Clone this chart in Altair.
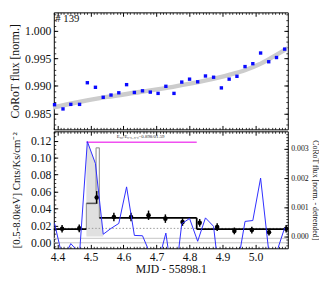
import altair as alt
import pandas as pd

FONT = "Liberation Serif"
X_DOMAIN = [4.389, 5.098]
TOP_DOMAIN = [0.9821, 1.0034]
LEFT_DOMAIN = [-0.007, 0.131]
RIGHT_DOMAIN = [-0.0004, 0.0036]

# ---------------- top panel: CoRoT light curve ----------------
corot_t = [4.3912, 4.4168, 4.4404, 4.4670, 4.4906, 4.5151, 4.5387, 4.5623, 4.5859, 4.6095,
           4.6331, 4.6577, 4.6813, 4.7049, 4.7285, 4.7531, 4.7767, 4.8003, 4.8249, 4.8485,
           4.8731, 4.8967, 4.9203, 4.9439, 4.9684, 4.9920, 5.0156, 5.0402, 5.0638, 5.0884]
corot_flux = [0.98659, 0.98582, 0.98665, 0.98665, 0.99059, 0.98976, 0.98794, 0.98835, 0.98876, 0.99024,
              0.98882, 0.98912, 0.98888, 0.98865, 0.98994, 0.98865, 0.99071, 0.99124, 0.99076, 0.99182,
              0.99159, 0.98965, 0.99124, 0.99176, 0.99353, 0.99406, 0.99600, 0.99441, 0.99518, 0.99671]
trend_t = [4.389, 4.45, 4.55, 4.65, 4.75, 4.85, 4.92, 4.97, 5.01, 5.05, 5.098]
trend_flux = [0.98612, 0.98690, 0.98800, 0.98890, 0.98985, 0.99100, 0.99200, 0.99290, 0.99390, 0.99520, 0.99690]

# detrended CoRoT flux (right axis of lower panel)
detrended = [0.00045, -0.0008, -0.00024, -0.00057, 0.00325, 0.0025, 0.00008, 0.00028, 0.00045, 0.0017,
             0.00004, 0.00003, -0.0006, -0.0009, 0.00012, -0.0018, 0.00044, 0.00062, -0.00016, 0.00064,
             0.00035, -0.002, -0.001, -0.0011, 0.00052, 0.00055, 0.0020, -0.0005, -0.00055, 0.0003]

# flare area (right-axis units)
fill_t = [4.4877, 4.4906, 4.5151, 4.5387]
fill_top = [0.0028, 0.00325, 0.0025, 0.00008]

# ---------------- lower panel: X-ray light curve ----------------
xray_t = [4.414, 4.466, 4.519, 4.571, 4.623, 4.676, 4.727, 4.779, 4.831, 4.884, 4.936, 4.989, 5.041, 5.093]
xray_rate = [0.016, 0.0165, 0.053, 0.030, 0.030, 0.032, 0.028, 0.024, 0.023, 0.018, 0.0135, 0.0145, 0.012, 0.016]
xray_err = [0.0045, 0.0045, 0.0075, 0.005, 0.005, 0.0055, 0.005, 0.0045, 0.0045, 0.0045, 0.004, 0.004, 0.004, 0.0045]

# Bayesian blocks
bb_edges = [4.389, 4.4877, 4.517, 4.527, 4.822, 5.098]
bb_vals = [0.0155, 0.046, 0.1115, 0.029, 0.0155]
bb_style = ["black", "dark", "light", "black", "black"]

flare_span = [4.4877, 4.822]
flare_level = 0.118
quiescent_level = 0.0165
background_levels = [0.0048, -0.0005]
annotation = "E₅₀/E₀.₅₋₈.₀=0.898/01.59"

X_MAJOR = [4.4, 4.5, 4.6, 4.7, 4.8, 4.9, 5.0]
X_MINOR = [round(4.39 + 0.01 * i, 2) for i in range(71)]
X_MINOR = [v for v in X_MINOR if v not in X_MAJOR]
TOP_MAJOR = [0.985, 0.990, 0.995, 1.000]
TOP_MINOR = [round(0.983 + 0.001 * i, 3) for i in range(21)]
LEFT_MAJOR = [0.0, 0.02, 0.04, 0.06, 0.08, 0.10, 0.12]
LEFT_MINOR = [round(-0.005 + 0.005 * i, 3) for i in range(28)]
RIGHT_MAJOR = [0.0, 0.001, 0.002, 0.003]
RIGHT_MINOR = [round(-0.0003 + 0.0001 * i, 4) for i in range(39)]


def ax_major(orient, values, **kw):
    base = dict(orient=orient, values=values, offset=-4, tickSize=4, domain=False,
                labels=False, title=None, grid=False, tickColor="#000", tickWidth=1,
                labelFlush=False)
    base.update(kw)
    return alt.Axis(**base)


def ax_minor(orient, values):
    return alt.Axis(orient=orient, values=values, offset=-2, tickSize=2, domain=False,
                    labels=False, title=None, grid=False, tickColor="#000", tickWidth=0.8)


xs = alt.Scale(domain=X_DOMAIN, nice=False, zero=False)


def X(field, axis):
    return alt.X(f"{field}:Q", scale=xs, axis=axis)


ys_top = alt.Scale(domain=TOP_DOMAIN, nice=False, zero=False)
ys_left = alt.Scale(domain=LEFT_DOMAIN, nice=False, zero=False)
ys_right = alt.Scale(domain=RIGHT_DOMAIN, nice=False, zero=False)

# ---------- top ----------
top_pts = pd.DataFrame({"t": corot_t, "f": corot_flux})
top_trend = pd.DataFrame({"t": trend_t, "f": trend_flux})

trend = alt.Chart(top_trend).mark_line(color="#cccccc", strokeWidth=4.5, interpolate="monotone", clip=True).encode(
    x=X("t", ax_major("bottom", X_MAJOR)),
    y=alt.Y("f:Q", scale=ys_top, axis=ax_major("left", TOP_MAJOR, labels=True, title="CoRoT flux [norm.]",
                                                format=".3f", labelFontSize=12, titleFontSize=12,
                                                labelPadding=3, titlePadding=3)),
)
pts = alt.Chart(top_pts).mark_square(color="#0a0aff", size=12, opacity=1).encode(
    x=X("t", ax_major("top", X_MAJOR)),
    y=alt.Y("f:Q", scale=ys_top, axis=ax_major("right", TOP_MAJOR)),
)
tminor1 = alt.Chart(top_pts).mark_point(opacity=0).encode(
    x=X("t", ax_minor("bottom", X_MINOR)),
    y=alt.Y("f:Q", scale=ys_top, axis=ax_minor("left", TOP_MINOR)),
)
tminor2 = alt.Chart(top_pts).mark_point(opacity=0).encode(
    x=X("t", ax_minor("top", X_MINOR)),
    y=alt.Y("f:Q", scale=ys_top, axis=ax_minor("right", TOP_MINOR)),
)
lab139 = alt.Chart(pd.DataFrame({"t": [4.3935], "f": [1.0022], "s": ["# 139"]})).mark_text(
    align="left", baseline="middle", font=FONT, fontSize=11, color="#111").encode(
    x=X("t", None), y=alt.Y("f:Q", scale=ys_top, axis=None), text="s:N")

top = alt.layer(trend, pts, tminor1, tminor2, lab139).resolve_axis(
    x="independent", y="independent").properties(width=240, height=120)

# ---------- bottom ----------
segs = []
for i, v in enumerate(bb_vals):
    segs.append({"t": bb_edges[i], "t2": bb_edges[i + 1], "y": v, "y2": v, "k": bb_style[i]})
for j in range(1, len(bb_vals)):
    k = "black" if (bb_style[j - 1] == "black" and bb_style[j] == "black") else "light"
    segs.append({"t": bb_edges[j], "t2": bb_edges[j], "y": bb_vals[j - 1], "y2": bb_vals[j], "k": k})
segs = pd.DataFrame(segs)

pts_df = pd.DataFrame({"t": xray_t, "y": xray_rate, "lo": [r - e for r, e in zip(xray_rate, xray_err)],
                       "hi": [r + e for r, e in zip(xray_rate, xray_err)]})

bg = alt.Chart(pd.DataFrame({"y": background_levels})).mark_rule(color="#c4c4c4", strokeWidth=1).encode(
    y=alt.Y("y:Q", scale=ys_left, axis=None))
dotted = alt.Chart(pd.DataFrame({"y": [quiescent_level]})).mark_rule(
    color="#999", strokeWidth=1, strokeDash=[1.5, 2]).encode(y=alt.Y("y:Q", scale=ys_left, axis=None))


def seg_layer(kind, color, width, xaxis):
    return alt.Chart(segs).transform_filter(alt.datum.k == kind).mark_rule(
        color=color, strokeWidth=width).encode(
        x=X("t", xaxis), x2="t2:Q",
        y=alt.Y("y:Q", scale=ys_left, axis=None), y2="y2:Q")


seg_light = seg_layer("light", "#9a9a9a", 1.2, ax_minor("bottom", X_MINOR))
seg_dark = seg_layer("dark", "#555555", 1.6, ax_minor("top", X_MINOR))
seg_black = seg_layer("black", "#000000", 1.8, None)

magenta = alt.Chart(pd.DataFrame({"t": [flare_span[0]], "t2": [flare_span[1]], "y": [flare_level]})).mark_rule(
    color="#f050f0", strokeWidth=1.5).encode(
    x=X("t", None), x2="t2:Q", y=alt.Y("y:Q", scale=ys_left, axis=None))
ann = alt.Chart(pd.DataFrame({"t": [4.652], "y": [0.1255], "s": [annotation]})).mark_text(
    font=FONT, fontSize=5, color="#333", baseline="middle").encode(
    x=X("t", None), y=alt.Y("y:Q", scale=ys_left, axis=None), text="s:N")

errs = alt.Chart(pts_df).mark_rule(color="#000", strokeWidth=1.5).encode(
    x=X("t", ax_major("top", X_MAJOR)),
    y=alt.Y("lo:Q", scale=ys_left, axis=ax_minor("left", LEFT_MINOR)), y2="hi:Q")
dots = alt.Chart(pts_df).mark_circle(color="#000", size=22, opacity=1).encode(
    x=X("t", ax_major("bottom", X_MAJOR, labels=True, title="MJD - 55898.1", labelFontSize=12,
                      titleFontSize=12, labelPadding=4, titlePadding=1, format=".1f")),
    y=alt.Y("y:Q", scale=ys_left, axis=ax_major("left", LEFT_MAJOR, labels=True,
                                                title="[0.5-8.0keV] Cnts/Ks/cm⁻²", format=".2f",
                                                labelFontSize=12, titleFontSize=11,
                                                labelPadding=3, titlePadding=9)))

left_group = alt.layer(bg, dotted, seg_light, seg_dark, seg_black, magenta, ann, errs, dots).resolve_axis(
    x="independent", y="independent")

fill_df = pd.DataFrame({"t": fill_t, "top": fill_top, "base": [0.0] * len(fill_t)})
fill = alt.Chart(fill_df).mark_area(color="#e0e0e0", opacity=1, line=False).encode(
    x=X("t", None), y=alt.Y("top:Q", scale=ys_right, axis=None), y2="base:Q")

blue_df = pd.DataFrame({"t": corot_t, "d": detrended})
blue = alt.Chart(blue_df).mark_line(color="#2a2aff", strokeWidth=1, clip=True).encode(
    x=X("t", None),
    y=alt.Y("d:Q", scale=ys_right, axis=ax_major("right", RIGHT_MAJOR, labels=True, format=".3f",
                                                  title="CoRoT flux [norm. - detrended]",
                                                  labelFontSize=8, titleFontSize=8,
                                                  labelPadding=3, titlePadding=2)))
bminor = alt.Chart(blue_df).mark_point(opacity=0, clip=True).encode(
    x=X("t", None),
    y=alt.Y("d:Q", scale=ys_right, axis=ax_minor("right", RIGHT_MINOR)))
right_group = alt.layer(blue, bminor).resolve_axis(x="independent", y="independent")

bottom = alt.layer(fill, left_group, right_group).resolve_scale(y="independent").resolve_axis(
    x="independent", y="independent").properties(width=240, height=120)

chart = alt.vconcat(top, bottom, spacing=0).properties(
    padding={"left": 0, "top": 0, "right": 0, "bottom": 0}
).configure_view(stroke="#000", strokeWidth=1).configure_axis(
    labelFont=FONT, titleFont=FONT, labelColor="#111", titleColor="#111",
    titleFontWeight="normal", grid=False)

chart.save("out.html", embed_options={"renderer": "svg", "actions": False})
